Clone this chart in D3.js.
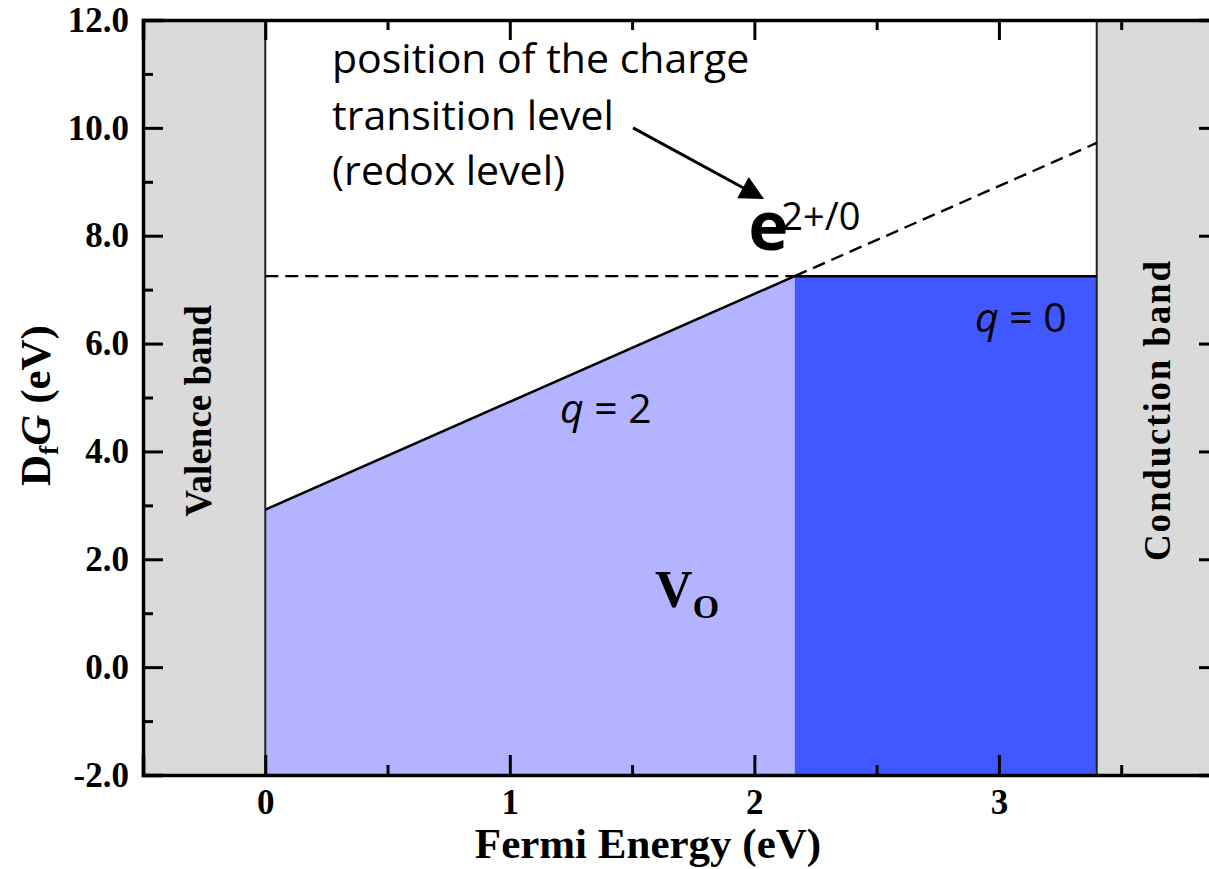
<!DOCTYPE html>
<html>
<head>
<meta charset="utf-8">
<script src="https://cdn.jsdelivr.net/npm/d3@7"></script>
<style>
  body { margin: 0; background: #fff; }
  svg { display: block; }
  .tick-label { font-family: "Liberation Serif", serif; font-weight: bold; font-size: 35px; }
  .axis-title { font-family: "Liberation Serif", serif; font-weight: bold; font-size: 43px; }
  .band-label { font-family: "Liberation Serif", serif; font-weight: bold; font-size: 37px; }
  .note { font-family: "Open Sans", sans-serif; font-size: 41px; }
</style>
</head>
<body>
<svg width="1209" height="869"></svg>
<script>
// data
const xTicks = [0, 1, 2, 3]
const xMinorTicks = [-0.5, 0.5, 1.5, 2.5, 3.5]
const yTicks = [-2, 0, 2, 4, 6, 8, 10, 12]
const yMinorTicks = [-1, 1, 3, 5, 7, 9, 11]
const valenceBand = [-0.5, 0]      // Fermi energy range of valence band
const conductionBand = [3.4, 3.9]  // Fermi energy range of conduction band
const q2Line = [[0, 2.92], [2.165, 7.25]]        // q = 2 formation energy
const q2Extension = [[2.165, 7.25], [3.4, 9.72]] // dashed continuation
const q0Line = [[2.165, 7.25], [3.4, 7.25]]      // q = 0 formation energy
const q0Extension = [[0, 7.25], [2.165, 7.25]]   // dashed continuation
const yBottom = -2

const svg = d3.select('svg')
const x = d3.scaleLinear().domain([-0.5, 3.9]).range([143, 1219])
const y = d3.scaleLinear().domain([-2, 12]).range([775, 20])

const line = d3.line().x(d => x(d[0])).y(d => y(d[1]))
const area = d3.area().x(d => x(d[0])).y0(y(yBottom)).y1(d => y(d[1]))

// bands
svg.selectAll('.band')
  .data([valenceBand, conductionBand])
  .enter()
  .append('rect')
  .attr('class', 'band')
  .attr('x', d => x(d[0]))
  .attr('width', d => x(d[1]) - x(d[0]))
  .attr('y', y(12))
  .attr('height', y(-2) - y(12))
  .attr('fill', '#dadada')

// filled regions
svg.append('path').attr('d', area(q2Line)).attr('fill', '#b3b3ff')
svg.append('path').attr('d', area(q0Line)).attr('fill', '#4157ff')

// band edges
svg.selectAll('.edge')
  .data([valenceBand[1], conductionBand[0]])
  .enter()
  .append('line')
  .attr('x1', d => x(d)).attr('x2', d => x(d))
  .attr('y1', y(12)).attr('y2', y(-2))
  .attr('stroke', '#222').attr('stroke-width', 2)

// lines
svg.append('path').attr('d', line(q2Line)).attr('fill', 'none').attr('stroke', '#000').attr('stroke-width', 2.5)
svg.append('path').attr('d', line(q0Line)).attr('fill', 'none').attr('stroke', '#000').attr('stroke-width', 2.5)
svg.selectAll('.dash')
  .data([q2Extension, q0Extension])
  .enter()
  .append('path')
  .attr('d', line)
  .attr('fill', 'none')
  .attr('stroke', '#000')
  .attr('stroke-width', 2.4)
  .attr('stroke-dasharray', '13,7')

// frame with inward ticks on every side
const yFormat = d => d.toFixed(1)
const axes = [
  { gen: d3.axisBottom(x), t: `translate(0,${y(-2)})`, major: xTicks, minor: xMinorTicks, fmt: d3.format('d') },
  { gen: d3.axisTop(x), t: `translate(0,${y(12)})`, major: xTicks, minor: xMinorTicks, fmt: () => '' },
  { gen: d3.axisLeft(y), t: `translate(${x(-0.5)},0)`, major: yTicks, minor: yMinorTicks, fmt: yFormat },
  { gen: d3.axisRight(y), t: `translate(${x(3.9)},0)`, major: yTicks, minor: yMinorTicks, fmt: () => '' }
]
axes.forEach(a => {
  const minor = svg.append('g').attr('transform', a.t)
    .call(a.gen.tickValues(a.minor).tickSize(-10).tickFormat(''))
  minor.select('.domain').remove()
  minor.selectAll('line').attr('stroke-width', 3)

  const g = svg.append('g').attr('transform', a.t)
    .call(a.gen.tickValues(a.major).tickSize(-20).tickPadding(14).tickFormat(a.fmt))
  g.select('.domain').attr('stroke-width', 3.5)
  g.selectAll('.tick line').attr('stroke-width', 3)
  g.selectAll('text').attr('class', 'tick-label').attr('fill', '#000')
})

// axis titles
svg.append('text')
  .attr('class', 'axis-title')
  .attr('x', x(1.565)).attr('y', 858)
  .attr('text-anchor', 'middle')
  .text('Fermi Energy (eV)')

const yt = svg.append('text')
  .attr('class', 'axis-title')
  .attr('transform', `translate(50,${y(4.85)}) rotate(-90)`)
  .attr('text-anchor', 'middle')
yt.append('tspan').text('D')
yt.append('tspan').attr('font-size', 28).attr('dy', 8).text('f')
yt.append('tspan').attr('font-style', 'italic').attr('dy', -8).text('G')
yt.append('tspan').text(' (eV)')

// band labels
svg.append('text')
  .attr('class', 'band-label')
  .attr('transform', `translate(${x(-0.22)},${y(4.75)}) rotate(-90)`)
  .attr('text-anchor', 'middle')
  .text('Valence band')
svg.append('text')
  .attr('class', 'band-label')
  .attr('transform', `translate(${x(3.70)},${y(4.75)}) rotate(-90)`)
  .attr('text-anchor', 'middle')
  .attr('textLength', 300)
  .attr('lengthAdjust', 'spacing')
  .text('Conduction band')

// annotation
const noteLines = ['position of the charge', 'transition level', '(redox level)']
const noteY = [11.02, 9.96, 8.94]
svg.selectAll('.note')
  .data(noteLines)
  .enter()
  .append('text')
  .attr('class', 'note')
  .attr('x', x(0.273))
  .attr('y', (d, i) => y(noteY[i]))
  .text(d => d)

svg.append('defs').append('marker')
  .attr('id', 'arrow')
  .attr('viewBox', '0 0 10 10')
  .attr('refX', 9).attr('refY', 5)
  .attr('markerWidth', 9).attr('markerHeight', 8)
  .attr('markerUnits', 'strokeWidth')
  .attr('orient', 'auto')
  .append('path').attr('d', 'M0,0 L10,5 L0,10 Z').attr('fill', '#000')

svg.append('line')
  .attr('x1', x(1.504)).attr('y1', y(10.0))
  .attr('x2', x(2.031)).attr('y2', y(8.70))
  .attr('stroke', '#000').attr('stroke-width', 3)
  .attr('marker-end', 'url(#arrow)')

svg.append('text')
  .attr('x', x(1.975)).attr('y', y(7.73))
  .attr('font-family', 'Open Sans, sans-serif')
  .attr('font-weight', 'bold')
  .attr('font-size', 68)
  .text('e')
svg.append('text')
  .attr('class', 'note')
  .attr('x', x(2.11)).attr('y', y(8.1))
  .style('font-size', '38px')
  .text('2+/0')

// charge state labels
const qLabels = [{ q: 2, x: 1.205, y: 4.53 }, { q: 0, x: 2.902, y: 6.21 }]
qLabels.forEach(d => {
  const t = svg.append('text').attr('class', 'note').attr('x', x(d.x)).attr('y', y(d.y))
  t.append('tspan').attr('font-style', 'italic').text('q')
  t.append('tspan').text(' = ' + d.q)
})

const vo = svg.append('text')
  .attr('x', x(1.594)).attr('y', y(1.115))
  .attr('font-family', 'Liberation Serif, serif')
  .attr('font-weight', 'bold')
  .attr('font-size', 52)
vo.append('tspan').text('V')
vo.append('tspan').attr('font-size', 34).attr('dy', 11).text('O')
</script>
</body>
</html>
